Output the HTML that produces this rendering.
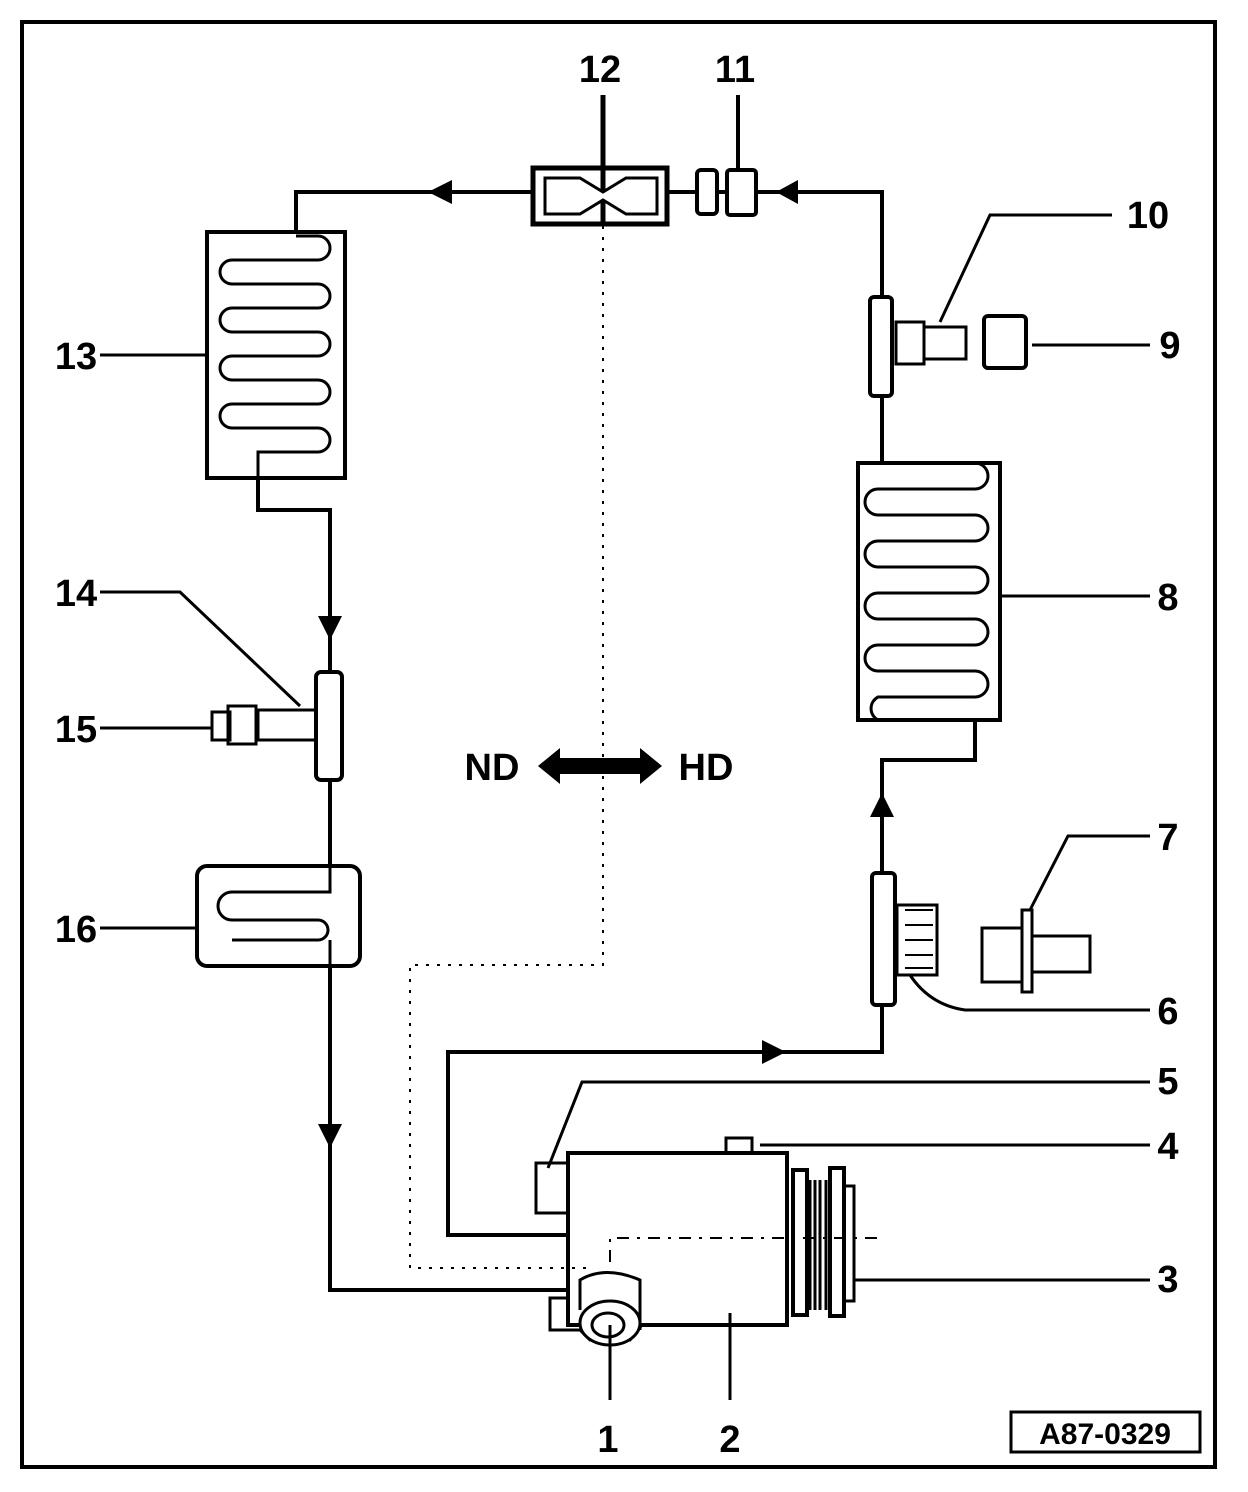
<!DOCTYPE html>
<html><head><style>body{margin:0;background:#fff}svg{display:block}text{font-family:"Liberation Sans",Arial,sans-serif;font-weight:bold;font-size:38px;fill:#000}</style></head><body>
<svg width="1248" height="1492" viewBox="0 0 1248 1492" xmlns="http://www.w3.org/2000/svg">
<g fill="none" stroke="#000" stroke-width="4">
<rect x="22" y="22" width="1193" height="1445"/>
<!-- main loop lines -->
<polyline points="533,192 296,192 296,232"/>
<polyline points="667,192 696,192"/><polyline points="756,192 882,192 882,297"/>
<line x1="718" y1="192" x2="726" y2="192"/>
<polyline points="258,478 258,510 330,510 330,672"/>
<line x1="330" y1="780" x2="330" y2="866"/>
<polyline points="330,966 330,1290 570,1290"/>
<line x1="882" y1="396" x2="882" y2="463"/>
<polyline points="975,720 975,760 882,760 882,873"/>
<polyline points="882,1005 882,1052 448,1052 448,1235 568,1235"/>
<!-- 12 -->
<rect x="533" y="168" width="134" height="56" stroke-width="5"/>
<path d="M545,178 H580 L603,192 L626,178 H657 V214 H626 L603,200 L580,214 H545 Z" stroke-width="3"/>
<line x1="603" y1="95" x2="603" y2="190" stroke-width="5"/>
<line x1="603" y1="200" x2="603" y2="226" stroke-width="5"/>
<!-- 11 -->
<rect x="697" y="170" width="20" height="44" rx="4"/>
<rect x="727" y="170" width="29" height="45" rx="3"/>
<line x1="738" y1="95" x2="738" y2="170"/>
<!-- 13 evaporator -->
<rect x="207" y="232" width="138" height="246"/>
<path d="M296,236 H318 A12,12 0 0 1 318,260 H232 A12,12 0 0 0 232,284 H318 A12,12 0 0 1 318,308 H232 A12,12 0 0 0 232,332 H318 A12,12 0 0 1 318,356 H232 A12,12 0 0 0 232,380 H318 A12,12 0 0 1 318,404 H232 A12,12 0 0 0 232,428 H318 A12,12 0 0 1 318,452 H258 V478" stroke-width="3"/>
<line x1="100" y1="355" x2="207" y2="355" stroke-width="3"/>
<!-- 14/15 -->
<rect x="316" y="672" width="26" height="108" rx="5"/>
<rect x="258" y="710" width="58" height="30" stroke-width="3"/>
<rect x="228" y="706" width="28" height="38" stroke-width="3"/>
<rect x="212" y="712" width="18" height="28" stroke-width="3"/>
<line x1="100" y1="728" x2="212" y2="728" stroke-width="3"/>
<polyline points="100,592 180,592 300,706" stroke-width="3"/>
<!-- 16 receiver -->
<rect x="197" y="866" width="163" height="100" rx="10"/>
<path d="M330,866 V892 H232 A14,14 0 0 0 232,920 H318 A10,10 0 0 1 318,940 H232 M330,940 V966" stroke-width="3"/>
<line x1="100" y1="928" x2="197" y2="928" stroke-width="3"/>
<!-- 10/9 -->
<rect x="870" y="297" width="22" height="99" rx="4"/>
<rect x="896" y="322" width="28" height="42" stroke-width="3"/>
<rect x="924" y="327" width="42" height="32" stroke-width="3"/>
<polyline points="1112,215 990,215 940,322" stroke-width="3"/>
<rect x="984" y="316" width="42" height="52" rx="4"/>
<line x1="1032" y1="345" x2="1150" y2="345" stroke-width="3"/>
<!-- 8 condenser -->
<rect x="858" y="463" width="142" height="257"/>
<path d="M882,463 H975 A13,13 0 0 1 975,489 H878 A13,13 0 0 0 878,515 H975 A13,13 0 0 1 975,541 H878 A13,13 0 0 0 878,567 H975 A13,13 0 0 1 975,593 H878 A13,13 0 0 0 878,619 H975 A13,13 0 0 1 975,645 H878 A13,13 0 0 0 878,671 H975 A13,13 0 0 1 975,697 H878 A13,13 0 0 0 878,720" stroke-width="3"/>
<line x1="1000" y1="596" x2="1150" y2="596" stroke-width="3"/>
<!-- 6 / 7 -->
<rect x="872" y="873" width="23" height="132" rx="4"/>
<rect x="897" y="905" width="40" height="70" stroke-width="3"/>
<path d="M905,910 h28 M905,925 h28 M905,940 h28 M905,955 h28 M905,968 h28" stroke-width="2"/>
<path d="M1150,1010 H965 Q930,1005 910,975" stroke-width="3"/>
<rect x="982" y="928" width="40" height="54" stroke-width="3"/>
<rect x="1022" y="910" width="10" height="82" stroke-width="3"/>
<rect x="1032" y="936" width="58" height="36" stroke-width="3"/>
<polyline points="1150,836 1068,836 1030,910" stroke-width="3"/>
<!-- compressor -->
<rect x="568" y="1153" width="219" height="172"/>
<rect x="536" y="1163" width="32" height="50" stroke-width="3"/>
<rect x="726" y="1138" width="26" height="15" stroke-width="3"/>
<rect x="793" y="1170" width="14" height="145" stroke-width="4"/>
<path d="M810,1180 v130 M815,1180 v130 M820,1180 v130 M826,1180 v130" stroke-width="3"/>
<rect x="830" y="1168" width="14" height="148" stroke-width="4"/>
<rect x="844" y="1186" width="10" height="115" stroke-width="3"/>
<path d="M568,1298 H550 V1330 H580 L590,1340 H630 L642,1325" stroke-width="3"/>
<path d="M580,1310 V1280 Q605,1265 640,1280 V1330" stroke-width="3" fill="#fff"/>
<ellipse cx="610" cy="1323" rx="30" ry="22" fill="#fff" stroke-width="3"/>
<ellipse cx="608" cy="1325" rx="16" ry="12" stroke-width="3"/>
<line x1="610" y1="1325" x2="610" y2="1400" stroke-width="3"/>
<line x1="730" y1="1313" x2="730" y2="1400" stroke-width="3"/>
<polyline points="1150,1082 582,1082 548,1168" stroke-width="3"/>
<line x1="760" y1="1145" x2="1150" y2="1145" stroke-width="3"/>
<line x1="853" y1="1280" x2="1150" y2="1280" stroke-width="3"/>
<!-- dotted lines -->
<g stroke-width="2" stroke-dasharray="3,8">
<polyline points="603,226 603,965 410,965 410,1268 590,1268"/>
<polyline points="610,1262 610,1238 880,1238" stroke-dasharray="12,8,3,8"/>
</g>
<rect x="1011" y="1412" width="189" height="40" stroke-width="3"/>
</g>
<!-- arrowheads -->
<g fill="#000">
<polygon points="428,192 452,180 452,204"/>
<polygon points="776,192 798,180 798,204"/>
<polygon points="330,640 318,616 342,616"/>
<polygon points="330,1148 318,1124 342,1124"/>
<polygon points="882,793 870,817 894,817"/>
<polygon points="786,1052 762,1040 762,1064"/>
<polygon points="538,766 560,748 560,758 640,758 640,748 662,766 640,784 640,774 560,774 560,784"/>
</g>
<text x="600" y="82" text-anchor="middle">12</text>
<text x="735" y="82" text-anchor="middle">11</text>
<text x="1148" y="228" text-anchor="middle">10</text>
<text x="1170" y="358" text-anchor="middle">9</text>
<text x="1168" y="610" text-anchor="middle">8</text>
<text x="1168" y="850" text-anchor="middle">7</text>
<text x="1168" y="1024" text-anchor="middle">6</text>
<text x="1168" y="1094" text-anchor="middle">5</text>
<text x="1168" y="1159" text-anchor="middle">4</text>
<text x="1168" y="1292" text-anchor="middle">3</text>
<text x="608" y="1452" text-anchor="middle">1</text>
<text x="730" y="1452" text-anchor="middle">2</text>
<text x="76" y="369" text-anchor="middle">13</text>
<text x="76" y="606" text-anchor="middle">14</text>
<text x="76" y="742" text-anchor="middle">15</text>
<text x="76" y="942" text-anchor="middle">16</text>
<text x="492" y="780" text-anchor="middle">ND</text>
<text x="706" y="780" text-anchor="middle">HD</text>
<text x="1105" y="1444" text-anchor="middle" style="font-size:30px">A87-0329</text>
</svg>
</body></html>
